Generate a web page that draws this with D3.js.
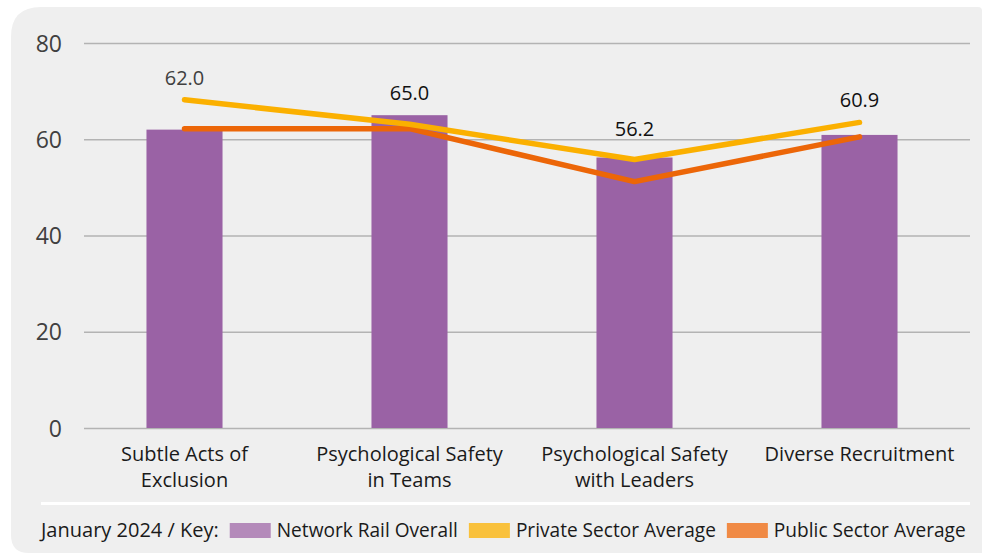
<!DOCTYPE html>
<html>
<head>
<meta charset="utf-8">
<script src="https://cdn.jsdelivr.net/npm/d3@7"></script>
<style>
  html, body { margin: 0; padding: 0; background: #ffffff; }
  svg { display: block; }
  text { font-family: "Open Sans", "Noto Sans", sans-serif; }
</style>
</head>
<body>
<svg id="chart" width="982" height="553"></svg>
<script>
// ---- Data ----
const categories = [
  ["Subtle Acts of", "Exclusion"],
  ["Psychological Safety", "in Teams"],
  ["Psychological Safety", "with Leaders"],
  ["Diverse Recruitment"]
];
const networkRail = [62.0, 65.0, 56.2, 60.9];
const privateSector = [68.2, 63.1, 55.8, 63.5];
const publicSector = [62.2, 62.2, 51.2, 60.5];
const yTicks = [0, 20, 40, 60, 80];
const legendTitle = "January 2024 / Key:";
const seriesNames = ["Network Rail Overall", "Private Sector Average", "Public Sector Average"];

// ---- Setup ----
const svg = d3.select("#chart");
const keys = categories.map((c, i) => i);

const x = d3.scaleBand().domain(keys).range([72, 972]).paddingInner(0.662).paddingOuter(0.331);
const y = d3.scaleLinear().domain([0, 80]).range([428, 43]);

// Panel background
svg.append("path")
  .attr("fill", "#efefef")
  .attr("d", (() => {
    const x0 = 11, y0 = 7, x1 = 982, y1 = 553, r = 30, rb = 18;
    return `M${x0 + r},${y0} L${x1 - 4},${y0} Q${x1},${y0} ${x1},${y0 + 4} L${x1},${y1} L${x0 + rb},${y1} Q${x0},${y1} ${x0},${y1 - rb} L${x0},${y0 + r} Q${x0},${y0} ${x0 + r},${y0} Z`;
  })());

// Gridlines + y axis labels
const yAxis = d3.axisLeft(y).tickValues(yTicks).tickSize(-(970 - 84)).tickPadding(22);
const gy = svg.append("g").attr("transform", "translate(84,0)").call(yAxis);
gy.select(".domain").remove();
gy.selectAll(".tick line").attr("stroke", "#b3b3b3").attr("stroke-width", 1.5);
gy.selectAll(".tick text")
  .attr("fill", "#404040")
  .style("font-size", "23px")
  .attr("dy", "0.35em");

// Bars
svg.append("g").selectAll("rect")
  .data(networkRail)
  .join("rect")
  .attr("x", (d, i) => x(i))
  .attr("width", x.bandwidth())
  .attr("y", d => y(d))
  .attr("height", d => y(0) - y(d))
  .attr("fill", "#9a62a5");

// Lines
const cx = i => x(i) + x.bandwidth() / 2;
const line = d3.line().x((d, i) => cx(i)).y(d => y(d));
svg.append("path").datum(publicSector)
  .attr("d", line).attr("fill", "none")
  .attr("stroke", "#ec6608").attr("stroke-width", 5.5)
  .attr("stroke-linecap", "round").attr("stroke-linejoin", "round");
svg.append("path").datum(privateSector)
  .attr("d", line).attr("fill", "none")
  .attr("stroke", "#fbb000").attr("stroke-width", 5.5)
  .attr("stroke-linecap", "round").attr("stroke-linejoin", "round");

// Data labels
svg.append("g").selectAll("text")
  .data(networkRail)
  .join("text")
  .attr("x", (d, i) => cx(i))
  .attr("y", (d, i) => y(Math.max(d, privateSector[i], publicSector[i])) - (i === 2 ? 22 : 15))
  .attr("text-anchor", "middle")
  .attr("fill", (d, i) => i === 0 ? "#404040" : "#111111")
  .style("font-size", "20px")
  .text(d => d.toFixed(1));

// Category labels
const xAxisG = svg.append("g");
categories.forEach((lines, i) => {
  const t = xAxisG.append("text")
    .attr("x", cx(i))
    .attr("y", 461)
    .attr("text-anchor", "middle")
    .attr("fill", "#1a1a1a")
    .style("font-size", "20px");
  lines.forEach((ln, j) => {
    t.append("tspan").attr("x", cx(i)).attr("dy", j === 0 ? 0 : 26).text(ln);
  });
});

// White separator
svg.append("rect").attr("x", 41).attr("y", 502).attr("width", 929).attr("height", 3).attr("fill", "#ffffff");

// Legend
const legend = svg.append("g");
const baseY = 537;
let cursor = 41;
const lt = legend.append("text").attr("x", cursor).attr("y", baseY)
  .attr("fill", "#1a1a1a").style("font-size", "20px").text(legendTitle);
cursor += lt.node().getComputedTextLength() + 11;
const swatchColors = ["#b48aba", "#f9c13c", "#f08a45"];
seriesNames.forEach((name, i) => {
  legend.append("rect").attr("x", cursor).attr("y", baseY - 14).attr("width", 41).attr("height", 15)
    .attr("fill", swatchColors[i]);
  cursor += 47;
  const tt = legend.append("text").attr("x", cursor).attr("y", baseY)
    .attr("fill", "#1a1a1a").style("font-size", "19.1px").text(name);
  cursor += tt.node().getComputedTextLength() + 11;
});
</script>
</body>
</html>
